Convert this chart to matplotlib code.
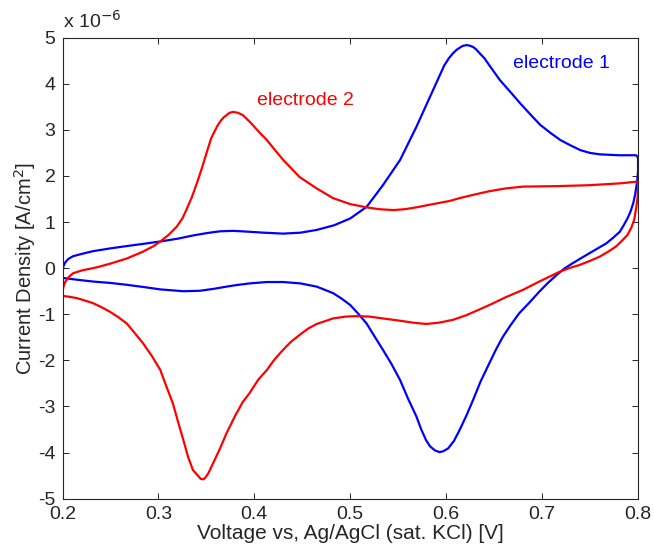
import matplotlib
matplotlib.use('Agg')
import matplotlib.pyplot as plt

# ── Data (current density in units of 1e-6 A/cm^2) ──────────────────────────
# electrode 1: forward scan then reverse scan
e1_v = [0.200, 0.201, 0.203, 0.206, 0.211, 0.220, 0.232, 0.250, 0.267, 0.285,
        0.302, 0.320, 0.336, 0.350, 0.364, 0.378, 0.395, 0.410, 0.430, 0.448,
        0.465, 0.483, 0.500, 0.517, 0.534, 0.552, 0.569, 0.586, 0.598, 0.603,
        0.607, 0.611, 0.617, 0.621, 0.624, 0.628, 0.631, 0.635, 0.640, 0.645,
        0.656, 0.667, 0.677, 0.688, 0.698, 0.709, 0.719, 0.730, 0.740, 0.750,
        0.760, 0.780, 0.798, 0.800,
        0.800, 0.799, 0.797, 0.795, 0.792, 0.789, 0.785, 0.781, 0.774, 0.767,
        0.758, 0.749, 0.740, 0.732, 0.723, 0.715, 0.706, 0.697, 0.687, 0.676,
        0.667, 0.659, 0.652, 0.645, 0.636, 0.628, 0.621, 0.614, 0.608, 0.602,
        0.597, 0.593, 0.588, 0.583, 0.579, 0.574, 0.569, 0.560, 0.552, 0.543,
        0.534, 0.525, 0.517, 0.508, 0.500, 0.491, 0.482, 0.465, 0.448, 0.430,
        0.413, 0.395, 0.380, 0.371, 0.357, 0.343, 0.326, 0.302, 0.285, 0.267,
        0.250, 0.232, 0.215, 0.200]
e1_j = [-0.10, 0.05, 0.13, 0.20, 0.26, 0.31, 0.37, 0.43, 0.48, 0.53,
        0.58, 0.64, 0.71, 0.76, 0.80, 0.81, 0.79, 0.77, 0.75, 0.77,
        0.83, 0.93, 1.08, 1.33, 1.80, 2.35, 3.07, 3.85, 4.40, 4.56,
        4.66, 4.74, 4.82, 4.84, 4.83, 4.80, 4.75, 4.66, 4.55, 4.40,
        4.08, 3.82, 3.58, 3.33, 3.11, 2.93, 2.78, 2.66, 2.56, 2.50,
        2.47, 2.45, 2.45, 2.40,
        2.10, 1.88, 1.60, 1.41, 1.22, 1.08, 0.93, 0.79, 0.66, 0.54,
        0.43, 0.32, 0.21, 0.11, -0.01, -0.15, -0.32, -0.51, -0.74, -0.98,
        -1.24, -1.49, -1.76, -2.06, -2.45, -2.86, -3.20, -3.51, -3.75, -3.91,
        -3.97, -3.99, -3.95, -3.86, -3.73, -3.50, -3.22, -2.82, -2.43, -2.08,
        -1.77, -1.47, -1.20, -0.98, -0.80, -0.66, -0.54, -0.40, -0.33, -0.30,
        -0.30, -0.33, -0.37, -0.40, -0.45, -0.49, -0.50, -0.46, -0.41, -0.36,
        -0.32, -0.29, -0.25, -0.21]

# electrode 2: forward scan then reverse scan
e2_v = [0.200, 0.201, 0.203, 0.207, 0.211, 0.220, 0.236, 0.250, 0.267, 0.284,
        0.295, 0.302, 0.311, 0.319, 0.325, 0.329, 0.335, 0.340, 0.345, 0.350,
        0.355, 0.361, 0.365, 0.368, 0.371, 0.374, 0.378, 0.383, 0.388, 0.395,
        0.406, 0.413, 0.422, 0.430, 0.447, 0.465, 0.482, 0.500, 0.517, 0.530,
        0.545, 0.557, 0.569, 0.586, 0.604, 0.614, 0.630, 0.645, 0.662, 0.680,
        0.715, 0.749, 0.781, 0.800,
        0.800, 0.7995, 0.798, 0.796, 0.793, 0.789, 0.783, 0.777, 0.769, 0.760,
        0.750, 0.739, 0.728, 0.718, 0.708, 0.697, 0.680, 0.662, 0.645, 0.633,
        0.621, 0.607, 0.593, 0.579, 0.565, 0.552, 0.534, 0.520, 0.507, 0.495,
        0.482, 0.465, 0.456, 0.447, 0.438, 0.430, 0.421, 0.413, 0.404, 0.395,
        0.388, 0.380, 0.371, 0.364, 0.357, 0.352, 0.349, 0.347, 0.344, 0.342,
        0.336, 0.331, 0.326, 0.320, 0.315, 0.308, 0.302, 0.293, 0.284, 0.275,
        0.267, 0.258, 0.249, 0.240, 0.232, 0.223, 0.215, 0.207, 0.200]
e2_j = [-0.51, -0.40, -0.29, -0.18, -0.11, -0.05, 0.02, 0.10, 0.21, 0.36,
        0.48, 0.58, 0.73, 0.90, 1.08, 1.26, 1.55, 1.84, 2.15, 2.49,
        2.82, 3.07, 3.20, 3.27, 3.32, 3.37, 3.39, 3.37, 3.32, 3.18,
        2.93, 2.78, 2.55, 2.35, 1.98, 1.73, 1.52, 1.39, 1.32, 1.28,
        1.26, 1.28, 1.32, 1.39, 1.46, 1.52, 1.60, 1.67, 1.73, 1.77,
        1.78, 1.80, 1.84, 1.88,
        1.77, 1.52, 1.30, 1.05, 0.88, 0.72, 0.59, 0.47, 0.36, 0.25,
        0.16, 0.07, 0.00, -0.08, -0.18, -0.29, -0.47, -0.63, -0.80, -0.91,
        -1.02, -1.12, -1.18, -1.21, -1.18, -1.14, -1.09, -1.05, -1.04, -1.05,
        -1.09, -1.21, -1.31, -1.45, -1.60, -1.77, -1.98, -2.21, -2.42, -2.71,
        -2.90, -3.20, -3.58, -3.92, -4.23, -4.45, -4.54, -4.58, -4.57, -4.52,
        -4.38, -4.10, -3.73, -3.30, -2.93, -2.55, -2.21, -1.90, -1.63, -1.40,
        -1.20, -1.06, -0.94, -0.84, -0.76, -0.70, -0.65, -0.62, -0.60]

x_ticks = [0.2, 0.3, 0.4, 0.5, 0.6, 0.7, 0.8]
y_ticks = [-5, -4, -3, -2, -1, 0, 1, 2, 3, 4, 5]

DARK = '#262626'
plt.rcParams.update({
    'font.family': ['Liberation Sans', 'DejaVu Sans'],
    'axes.edgecolor': DARK,
    'axes.linewidth': 0.8,
})

fig = plt.figure(figsize=(6.54, 5.44), dpi=100)
ax = fig.add_axes([0.0956, 0.0833, 0.88, 0.8474])

ax.plot(e1_v, e1_j, color='#0000ff', linewidth=1.6, solid_joinstyle='round')
ax.plot(e2_v, e2_j, color='#ff0000', linewidth=1.6, solid_joinstyle='round')

ax.text(0.4026, 3.63, 'electrode 2', color='#ff0000', fontsize=14, va='center')
ax.text(0.670, 4.44, 'electrode 1', color='#0000ff', fontsize=14, va='center')

ax.set_xlim(0.2, 0.8)
ax.set_ylim(-5, 5)
ax.set_xticks(x_ticks)
ax.set_xticklabels([f'{v:.1f}' for v in x_ticks])
ax.set_yticks(y_ticks)
ax.set_yticklabels([str(v) for v in y_ticks])
ax.tick_params(direction='in', length=4, width=0.7, top=True, right=True,
               labelsize=14, colors=DARK, pad=5)

ax.set_xlabel('Voltage vs, Ag/AgCl (sat. KCl) [V]', fontsize=15, color=DARK)
ax.xaxis.set_label_coords(0.5, -0.056)
ax.set_ylabel('Current Density [A/cm$^2$]', fontsize=14.5, color=DARK)
ax.yaxis.set_label_coords(-0.042, 0.5)

# axis exponent, MATLAB style
ax.text(0.0, 1.012, 'x 10$^{-6}$', transform=ax.transAxes, fontsize=14,
        color=DARK, ha='left', va='bottom')

fig.savefig('out.png', dpi=100, facecolor='white')
